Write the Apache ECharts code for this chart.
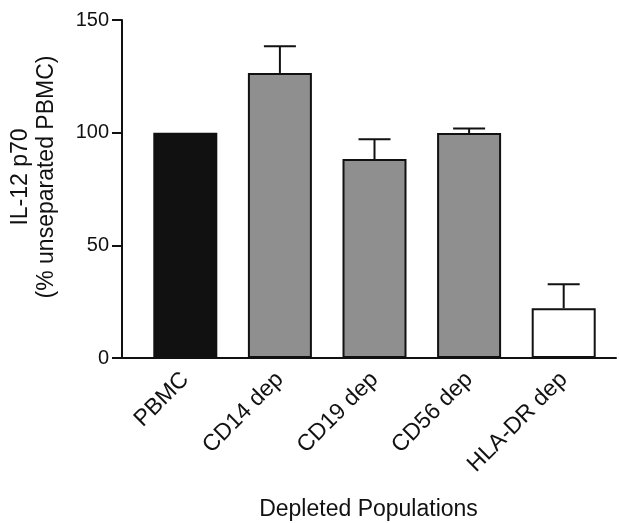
<!DOCTYPE html>
<html>
<head>
<meta charset="utf-8">
<script src="https://cdn.jsdelivr.net/npm/echarts@6/dist/echarts.min.js"></script>
<style>
  html, body { margin: 0; padding: 0; background: #fff; }
  #chart { width: 619px; height: 523px; }
</style>
</head>
<body>
<div id="chart"></div>
<script>
const categories = ['PBMC', 'CD14 dep', 'CD19 dep', 'CD56 dep', 'HLA-DR dep']
const means = [100, 126.5, 88.3, 99.8, 22.1]
const errors = [0, 11.8, 8.8, 2.0, 10.6]
const fills = ['#111111', '#8f8f8f', '#8f8f8f', '#8f8f8f', '#ffffff']
const yTicks = [0, 50, 100, 150]

const chart = echarts.init(document.getElementById('chart'))
const font = 'Liberation Sans, Arial, sans-serif'
const ink = '#111'

chart.setOption({
  animation: false,
  // grid 0 holds the bars, grid 1 draws the full-width axes
  grid: [
    { left: 138, right: 8, top: 20, bottom: 165, outerBoundsMode: 'none' },
    { left: 122, right: 3, top: 20, bottom: 165, outerBoundsMode: 'none' },
  ],
  xAxis: [
    {
      gridIndex: 0,
      type: 'category',
      data: categories,
      axisLine: { show: false },
      axisTick: { show: false },
      axisLabel: {
        rotate: 45,
        margin: 18,
        color: ink,
        fontSize: 23,
        fontFamily: font,
      },
      name: 'Depleted Populations',
      nameLocation: 'middle',
      nameGap: 140,
      nameTextStyle: { color: ink, fontSize: 23, fontFamily: font, padding: [0, 12, 0, 0] },
    },
    {
      gridIndex: 1,
      type: 'value',
      min: 0,
      max: 1,
      axisLine: { show: true, lineStyle: { color: ink, width: 2 } },
      axisTick: { show: false },
      axisLabel: { show: false },
      splitLine: { show: false },
    },
  ],
  yAxis: [
    {
      gridIndex: 0,
      type: 'value',
      min: yTicks[0],
      max: yTicks[yTicks.length - 1],
      interval: 50,
      show: false,
      splitLine: { show: false },
    },
    {
      gridIndex: 1,
      type: 'value',
      min: yTicks[0],
      max: yTicks[yTicks.length - 1],
      interval: 50,
      axisLine: { show: true, lineStyle: { color: ink, width: 2 } },
      axisTick: { show: true, length: 10, lineStyle: { color: ink, width: 2 } },
      axisLabel: { color: ink, fontSize: 20, fontFamily: font, margin: 13 },
      splitLine: { show: false },
      name: 'IL-12 p70\n(% unseparated PBMC)',
      nameLocation: 'middle',
      nameRotate: 90,
      nameGap: 62,
      nameTextStyle: {
        color: ink,
        fontSize: 23,
        fontFamily: font,
        lineHeight: 26,
        padding: [0, 0, 0, 24],
      },
    },
  ],
  series: [
    {
      type: 'bar',
      xAxisIndex: 0,
      yAxisIndex: 0,
      barWidth: 64,
      data: means.map((v, i) => ({
        value: v,
        itemStyle: { color: fills[i], borderColor: ink, borderWidth: 2 },
      })),
    },
    {
      type: 'custom',
      xAxisIndex: 0,
      yAxisIndex: 0,
      z: 1,
      data: means.map((v, i) => [i, v, v + errors[i]]),
      renderItem: function (params, api) {
        if (api.value(2) <= api.value(1)) return null
        const base = api.coord([api.value(0), api.value(1)])
        const top = api.coord([api.value(0), api.value(2)])
        const half = 16
        const style = { stroke: ink, lineWidth: 2 }
        return {
          type: 'group',
          children: [
            { type: 'line', shape: { x1: base[0], y1: base[1], x2: top[0], y2: top[1] }, style },
            { type: 'line', shape: { x1: top[0] - half, y1: top[1], x2: top[0] + half, y2: top[1] }, style },
          ],
        }
      },
    },
  ],
})
</script>
</body>
</html>
